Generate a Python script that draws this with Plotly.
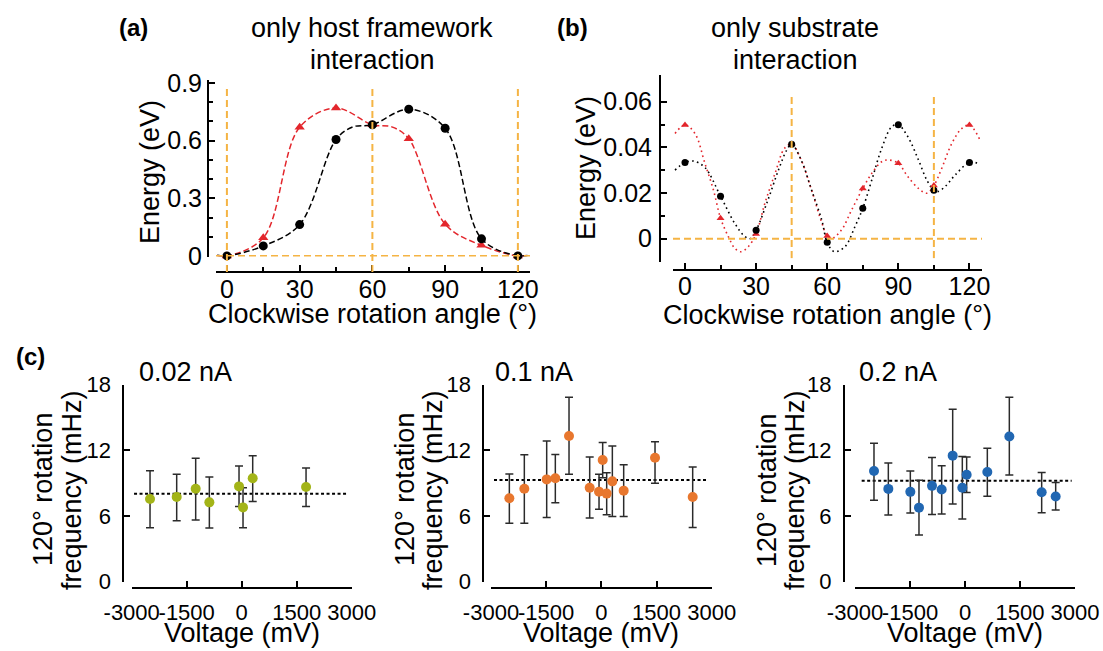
import plotly.graph_objects as go

W, H = 1103, 651
FONT = "Liberation Sans, Arial, sans-serif"

# ---------------- data ----------------
# (a) only host framework interaction
a_angle = [0, 15, 30, 45, 60, 75, 90, 105, 120]
a_black = [0.0, 0.052, 0.163, 0.606, 0.683, 0.764, 0.665, 0.089, 0.0]
a_red = [0.0, 0.094, 0.670, 0.770, 0.683, 0.610, 0.165, 0.055, 0.0]
a_curve_angle = [-4, 0, 15, 30, 45, 52, 60, 75, 90, 105, 120, 124]
a_curve_black = [0.004, 0.0, 0.052, 0.163, 0.606, 0.672, 0.683, 0.764, 0.665, 0.089, 0.0, 0.002]
a_curve_angle_r = [-4, 0, 15, 30, 45, 60, 68, 75, 90, 105, 120, 124]
a_curve_red = [0.002, 0.0, 0.094, 0.670, 0.770, 0.683, 0.672, 0.610, 0.165, 0.055, 0.0, 0.004]
a_vlines = [0, 60, 120]

# (b) only substrate interaction
b_angle = [0, 15, 30, 45, 60, 75, 90, 105, 120]
b_black = [0.0334, 0.0186, 0.0037, 0.0414, -0.0016, 0.0133, 0.0499, 0.0212, 0.0334]
b_red = [0.0498, 0.0090, 0.0021, 0.0414, 0.0012, 0.0220, 0.0330, 0.0233, 0.0498]
b_curve_angle_k = [-4.2, 0, 3.5, 8.4, 15, 21, 25.3, 27.4, 30, 35, 39.4, 42.9, 45, 49, 53.4,
                   57.7, 60, 63, 67.5, 71.7, 75, 78.8, 83, 87.2, 90, 94, 98.5, 102, 105,
                   106.5, 109.7, 114, 120, 124.5]
b_curve_black = [0.0300, 0.0334, 0.0340, 0.0312, 0.0186, 0.0067, 0.0009, 0.0000, 0.0037,
                 0.0170, 0.0300, 0.0388, 0.0414, 0.0345, 0.0213, 0.0082, -0.0016, -0.0057,
                 -0.0035, 0.0053, 0.0133, 0.0257, 0.0396, 0.0490, 0.0499, 0.0447, 0.0345,
                 0.0257, 0.0212, 0.0206, 0.0228, 0.0279, 0.0334, 0.0327]
b_curve_angle_r = [-4.2, 0, 4.2, 8.4, 12, 15, 18.3, 21, 23.6, 26.7, 30, 33.7, 38, 42, 45,
                   49, 53.4, 57.7, 60, 62, 66, 70.3, 75, 78.8, 83, 85.8, 90, 94, 98.5, 102,
                   105, 108, 112.6, 116.8, 120, 124.5]
b_curve_red = [0.0461, 0.0498, 0.0461, 0.0330, 0.0213, 0.0090, 0.0009, -0.0042, -0.0057,
               -0.0035, 0.0021, 0.0155, 0.0286, 0.0396, 0.0414, 0.0345, 0.0213, 0.0070,
               0.0012, 0.0001, 0.0038, 0.0126, 0.0220, 0.0286, 0.0337, 0.0345, 0.0330,
               0.0272, 0.0220, 0.0199, 0.0233, 0.0300, 0.0418, 0.0483, 0.0498, 0.0432]
b_vlines = [45, 105]

# (c) 120 deg rotation frequency vs voltage
c1_v = [-2500, -1773, -1255, -882, -73, 36, 300, 1755]
c1_f = [7.54, 7.72, 8.48, 7.23, 8.69, 6.77, 9.43, 8.63]
c1_hi = [10.13, 9.79, 11.26, 9.55, 10.56, 8.57, 11.50, 10.37]
c1_lo = [4.91, 5.55, 5.61, 4.88, 6.86, 4.91, 7.32, 6.86]
c1_mean = 8.02
c1_mean_span = [-2936, 2909]

c2_v = [-2501, -2094, -1486, -1251, -879, -317, -63, 36, 145, 299, 607, 1459, 2483]
c2_f = [7.60, 8.48, 9.33, 9.43, 13.29, 8.57, 8.21, 11.10, 8.03, 9.15, 8.30, 11.31, 7.72]
c2_hi = [9.82, 11.58, 12.83, 11.61, 16.84, 11.37, 9.79, 12.71, 9.94, 12.37, 10.67, 12.77, 10.46]
c2_lo = [5.32, 5.32, 5.84, 7.20, 9.79, 5.81, 6.60, 9.49, 6.11, 5.93, 5.93, 8.97, 4.93]
c2_mean = 9.27
c2_mean_span = [-2918, 2909]

c3_v = [-2482, -2091, -1491, -1255, -900, -636, -336, -73, 45, 609, 1209, 2091, 2473]
c3_f = [10.09, 8.46, 8.19, 6.75, 8.74, 8.40, 11.50, 8.56, 9.75, 10.00, 13.25, 8.16, 7.76]
c3_hi = [12.63, 10.83, 10.09, 9.26, 11.32, 10.58, 15.73, 11.41, 11.38, 12.17, 16.84, 9.97, 9.05]
c3_lo = [7.42, 6.07, 6.26, 4.26, 6.13, 6.16, 7.08, 5.70, 8.13, 7.79, 9.72, 6.29, 6.53]
c3_mean = 9.20
c3_mean_span = [-2818, 2909]

c_xticks = [-3000, -1500, 0, 1500, 3000]
c_xticktext = ["-3000", "-1500", "0", "1500", "3000"]
c_yticks = [0, 6, 12, 18]

# ---------------- colours ----------------
RED = "#E3262C"
ORANGE_LINE = "#F5B444"
OLIVE = "#A3B418"
ORANGE = "#E8772E"
BLUE = "#2167B2"
ERR = "#2B2B2B"


def px_x(p):
    return p / W


def px_y(p):
    return 1 - p / H


fig = go.Figure()

# ---- (a) ----
fig.add_trace(go.Scatter(x=a_curve_angle_r, y=a_curve_red, mode="lines", xaxis="x", yaxis="y",
                         line=dict(color=RED, width=1.5, dash="6px,3px", shape="spline"),
                         showlegend=False, hoverinfo="skip"))
fig.add_trace(go.Scatter(x=a_curve_angle, y=a_curve_black, mode="lines", xaxis="x", yaxis="y",
                         line=dict(color="black", width=1.5, dash="6px,3px", shape="spline"),
                         showlegend=False, hoverinfo="skip"))
fig.add_trace(go.Scatter(x=a_angle, y=a_red, mode="markers", xaxis="x", yaxis="y",
                         marker=dict(symbol="triangle-up", size=9, color=RED),
                         cliponaxis=False, showlegend=False))
fig.add_trace(go.Scatter(x=a_angle, y=a_black, mode="markers", xaxis="x", yaxis="y",
                         marker=dict(symbol="circle", size=9, color="black"),
                         cliponaxis=False, showlegend=False))

# ---- (b) ----
fig.add_trace(go.Scatter(x=b_curve_angle_r, y=b_curve_red, mode="lines", xaxis="x2", yaxis="y2",
                         line=dict(color=RED, width=1.6, dash="1.6px,3.4px", shape="spline"),
                         showlegend=False, hoverinfo="skip"))
fig.add_trace(go.Scatter(x=b_curve_angle_k, y=b_curve_black, mode="lines", xaxis="x2", yaxis="y2",
                         line=dict(color="black", width=1.6, dash="1.6px,3.4px", shape="spline"),
                         showlegend=False, hoverinfo="skip"))
fig.add_trace(go.Scatter(x=b_angle, y=b_red, mode="markers", xaxis="x2", yaxis="y2",
                         marker=dict(symbol="triangle-up", size=7, color=RED),
                         cliponaxis=False, showlegend=False))
fig.add_trace(go.Scatter(x=b_angle, y=b_black, mode="markers", xaxis="x2", yaxis="y2",
                         marker=dict(symbol="circle", size=7, color="black"),
                         cliponaxis=False, showlegend=False))

# ---- (c) ----
c_sets = [
    (c1_v, c1_f, c1_hi, c1_lo, c1_mean, c1_mean_span, OLIVE, "x3", "y3"),
    (c2_v, c2_f, c2_hi, c2_lo, c2_mean, c2_mean_span, ORANGE, "x4", "y4"),
    (c3_v, c3_f, c3_hi, c3_lo, c3_mean, c3_mean_span, BLUE, "x5", "y5"),
]
for v, f, hi, lo, mean, span, col, xa, ya in c_sets:
    fig.add_trace(go.Scatter(x=span, y=[mean, mean], mode="lines", xaxis=xa, yaxis=ya,
                             line=dict(color="black", width=2, dash="3px,2.5px"),
                             showlegend=False, hoverinfo="skip"))
    fig.add_trace(go.Scatter(
        x=v, y=f, mode="markers", xaxis=xa, yaxis=ya,
        marker=dict(symbol="circle", size=10, color=col),
        error_y=dict(type="data", symmetric=False,
                     array=[h - y for h, y in zip(hi, f)],
                     arrayminus=[y - l for y, l in zip(f, lo)],
                     color=ERR, thickness=1.5, width=4),
        cliponaxis=False, showlegend=False))

tickfont_ab = dict(family=FONT, size=25, color="black")
tickfont_c = dict(family=FONT, size=22, color="black")

common = dict(showgrid=False, zeroline=False, showline=True, linecolor="black", linewidth=2,
              ticks="inside", tickcolor="black", tickwidth=1.5, anchor="free", tickangle=0,
              automargin=False)

layout = dict(
    width=W, height=H, margin=dict(l=0, r=0, t=0, b=0, pad=0, autoexpand=False),
    paper_bgcolor="white", plot_bgcolor="white",
    font=dict(family=FONT, color="black"),
    showlegend=False,
    # (a)
    xaxis=dict(**common, domain=[px_x(216), px_x(530)], range=[-4.5, 125],
               position=px_y(272), tickvals=[0, 30, 60, 90, 120], ticklen=6,
               minor=dict(tickvals=[15, 45, 75, 105], ticklen=4, ticks="inside",
                          tickcolor="black", tickwidth=1.5),
               tickfont=tickfont_ab, ticklabelstandoff=-5),
    yaxis=dict(**common, domain=[px_y(256.5), px_y(80)], range=[-0.003, 0.916],
               position=px_x(208), tickvals=[0, 0.3, 0.6, 0.9], ticktext=["0", "0.3", "0.6", "0.9"],
               ticklen=6,
               minor=dict(dtick=0.1, ticklen=4, ticks="inside", tickcolor="black", tickwidth=1.5),
               tickfont=tickfont_ab, ticklabelstandoff=0),
    # (b)
    xaxis2=dict(**common, domain=[px_x(673), px_x(982)], range=[-5.06, 125.3],
                position=px_y(270), tickvals=[0, 30, 60, 90, 120], ticklen=6,
                minor=dict(tickvals=[15, 45, 75, 105], ticklen=4, ticks="inside",
                           tickcolor="black", tickwidth=1.5),
                tickfont=tickfont_ab, ticklabelstandoff=-6),
    yaxis2=dict(**common, domain=[px_y(262), px_y(75)], range=[-0.0102, 0.0717],
                position=px_x(660), tickvals=[0, 0.02, 0.04, 0.06],
                ticktext=["0", "0.02", "0.04", "0.06"], ticklen=6,
                minor=dict(tickvals=[-0.01, 0.01, 0.03, 0.05], ticklen=4, ticks="inside",
                           tickcolor="black", tickwidth=1.5),
                tickfont=tickfont_ab, ticklabelstandoff=2),
)

c_geo = [
    ("xaxis3", "yaxis3", 131.7, 351.7, 123.3),
    ("xaxis4", "yaxis4", 491.0, 711.7, 483.3),
    ("xaxis5", "yaxis5", 855.0, 1075.0, 844.0),
]
for xn, yn, xl, xr, ypos in c_geo:
    layout[xn] = dict(**common, domain=[px_x(xl), px_x(xr)], range=[-3000, 3000],
                      position=px_y(587.5), tickvals=c_xticks, ticktext=c_xticktext,
                      ticklen=6, tickfont=tickfont_c, ticklabelstandoff=5)
    layout[yn] = dict(**common, domain=[px_y(581.5), px_y(384.5)], range=[0, 18],
                      position=px_x(ypos), tickvals=c_yticks, ticklen=6,
                      tickfont=tickfont_c, ticklabelstandoff=7)

fig.update_layout(**layout)

# ---- reference lines (orange dashed) ----
shapes = []
for a in a_vlines:
    shapes.append(dict(type="line", xref="x", yref="paper", x0=a, x1=a,
                       y0=px_y(272), y1=px_y(89),
                       line=dict(color=ORANGE_LINE, width=2, dash="7px,4px")))
shapes.append(dict(type="line", xref="x domain", yref="y", x0=0, x1=1, y0=0, y1=0,
                   line=dict(color=ORANGE_LINE, width=2, dash="7px,4px")))
for a in b_vlines:
    shapes.append(dict(type="line", xref="x2", yref="y2", x0=a, x1=a, y0=-0.0085, y1=0.063,
                       line=dict(color=ORANGE_LINE, width=2, dash="7px,4px")))
shapes.append(dict(type="line", xref="x2 domain", yref="y2", x0=0, x1=1, y0=0, y1=0,
                   line=dict(color=ORANGE_LINE, width=2, dash="7px,4px")))
fig.update_layout(shapes=shapes)

# ---- text ----
TS = 27


def ann(text, x, y, size=TS, angle=0, xanchor="center", bold=False):
    return dict(text=("<b>%s</b>" % text) if bold else text, x=px_x(x), y=px_y(y),
                xref="paper", yref="paper", showarrow=False, textangle=angle,
                xanchor=xanchor, yanchor="middle",
                font=dict(family=FONT, size=size, color="black"))


annotations = [
    ann("(a)", 133, 28, size=24, bold=True),
    ann("(b)", 572, 28, size=24, bold=True),
    ann("(c)", 30, 356, size=24, bold=True),
    ann("only host framework", 372, 28),
    ann("interaction", 372, 60),
    ann("only substrate", 795, 28),
    ann("interaction", 795, 60),
    ann("Energy (eV)", 150, 172, angle=-90),
    ann("Energy (eV)", 586, 168, angle=-90),
    ann("Clockwise rotation angle (°)", 372, 314),
    ann("Clockwise rotation angle (°)", 827, 315),
    ann("0.02 nA", 137, 372, xanchor="left"),
    ann("0.1 nA", 493, 372, xanchor="left"),
    ann("0.2 nA", 857, 372, xanchor="left"),
    ann("120° rotation", 43, 490, angle=-90),
    ann("frequency (mHz)", 72, 490, angle=-90),
    ann("120° rotation", 405, 490, angle=-90),
    ann("frequency (mHz)", 433, 490, angle=-90),
    ann("120° rotation", 767, 490, angle=-90),
    ann("frequency (mHz)", 795, 490, angle=-90),
    ann("Voltage (mV)", 241.7, 633),
    ann("Voltage (mV)", 601.3, 633),
    ann("Voltage (mV)", 965, 633),
]
fig.update_layout(annotations=annotations)

fig.write_html("out.html")
